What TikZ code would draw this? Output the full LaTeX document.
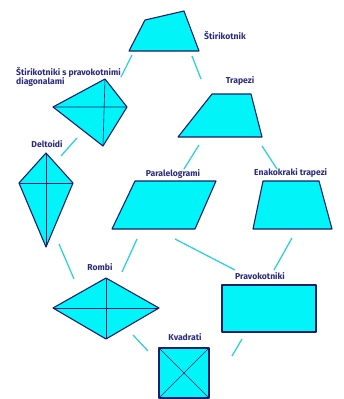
\documentclass[tikz,border=0pt]{standalone}
\usepackage{fontspec}
\setmainfont{Fira Sans}
\definecolor{shapefill}{HTML}{00F4F8}
\definecolor{edgecol}{HTML}{1E1E6A}
\definecolor{txtcol}{HTML}{2A2A7C}
\definecolor{linkcol}{HTML}{30D0E0}
\tikzset{
  shp/.style={draw=edgecol, fill=shapefill, line width=1.1pt, line join=round},
  diag/.style={draw=edgecol, line width=0.6pt},
  lbl/.style={text=txtcol, font=\fontsize{8.6}{9.6}\selectfont\bfseries, inner sep=0pt, align=left},
  link/.style={draw=linkcol, line width=1.3pt}
}
\begin{document}
\begin{tikzpicture}[x=1pt,y=-1pt]
\useasboundingbox (0,0) rectangle (343,399);
% Stirikotnik
\draw[shp] (129,51) -- (145,20) -- (184,11) -- (199,51) -- cycle;
\node[lbl, anchor=west] (lstir) at (204,36) {Štirikotnik};
% perpendicular diagonals
\draw[shp] (105,79) -- (127,107) -- (103,146) -- (53,107) -- cycle;
\draw[diag] (105,79) -- (103,146) (53,107) -- (127,107);
\node[lbl, anchor=north west] (lpd) at (16,67) {Štirikotniki s pravokotnimi\\diagonalami};
% Trapezi
\draw[shp] (212,94) -- (251,94) -- (262,137) -- (178,137) -- cycle;
\node[lbl] (ltrap) at (240,81) {Trapezi};
% Deltoidi
\draw[shp] (46,153) -- (73,183) -- (46,247) -- (19,183) -- cycle;
\draw[diag] (46,153) -- (46,247) (19,183) -- (73,183);
\node[lbl] (ldelt) at (47,144) {Deltoidi};
% Paralelogrami
\draw[shp] (135,181) -- (216,181) -- (195,229) -- (112,229) -- cycle;
\node[lbl] (lpar) at (173,174) {Paralelogrami};
% Enakokraki trapezi
\draw[shp] (263,181) -- (319,181) -- (332,229) -- (253,229) -- cycle;
\node[lbl, anchor=west] (lenak) at (254,173) {Enakokraki trapezi};
% Rombi
\draw[shp] (106,278) -- (159,308) -- (106,339) -- (53,308) -- cycle;
\draw[diag] (106,278) -- (106,339) (53,308) -- (159,308);
\node[lbl] (lrom) at (100,267) {Rombi};
% Pravokotniki
\draw[shp] (222,285) rectangle (316,332);
\node[lbl] (lprav) at (260,276) {Pravokotniki};
% Kvadrati
\draw[shp] (159,348) rectangle (209,398);
\draw[diag] (159,348) -- (209,398) (209,348) -- (159,398);
\node[lbl] (lkv) at (185,337) {Kvadrati};
% connectors
\coordinate (a1) at (132,55); \coordinate (a2) at (121,77);
\coordinate (b1) at (192,56); \coordinate (b2) at (201,79);
\coordinate (c1) at (77,138); \coordinate (c2) at (61,156);
\coordinate (d1) at (199,145); \coordinate (d2) at (184,169);
\coordinate (e1) at (262,146); \coordinate (e2) at (277,169);
\coordinate (f1) at (59,244); \coordinate (f2) at (74,279);
\coordinate (g1) at (137,239); \coordinate (g2) at (122,272);
\coordinate (h1) at (175,239); \coordinate (h2) at (235,270);
\coordinate (i1) at (292,238); \coordinate (i2) at (274,270);
\coordinate (j1) at (133,335); \coordinate (j2) at (148,351);
\coordinate (k1) at (242,339); \coordinate (k2) at (232,356);
\foreach \s in {a,b,c,d,e,f,g,h,i,j,k} \draw[link] (\s1) -- (\s2);
\end{tikzpicture}
\end{document}
